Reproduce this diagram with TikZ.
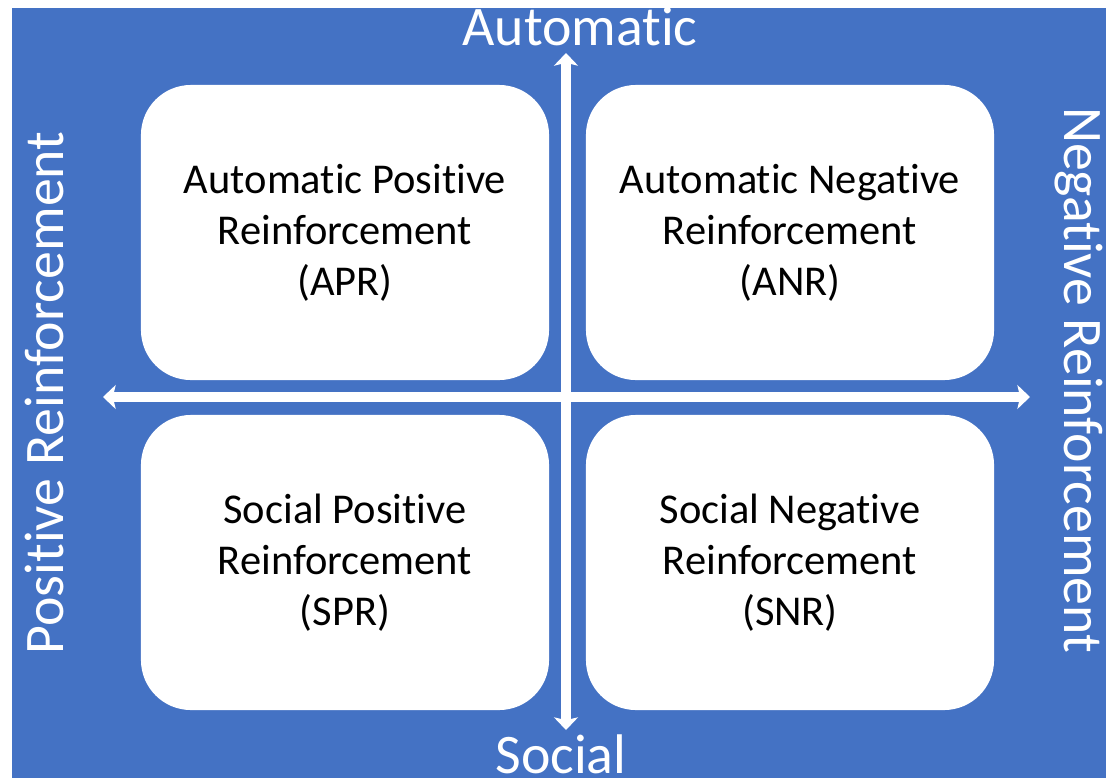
\documentclass[tikz,border=0pt]{standalone}
\usepackage{fontspec}
\setmainfont{Carlito}[Ligatures={NoCommon}]
\usetikzlibrary{arrows.meta}
\definecolor{slideblue}{RGB}{68,114,196}

\begin{document}
\begin{tikzpicture}[x=0.025cm, y=-0.025cm,
    quadbox/.style={fill=white, rounded corners=1.25cm, minimum width=10.2cm, minimum height=7.375cm,
      align=center, inner sep=0pt, font=\fontsize{30.2}{36.3}\selectfont},
    axislabel/.style={text=white, anchor=base, inner sep=0pt, font=\fontsize{39.7}{44}\selectfont},
    axisline/.style={white, line width=7.8pt,
      {Stealth[length=9pt, width=17pt, inset=2pt]}-{Stealth[length=9pt, width=17pt, inset=2pt]}}]
    \useasboundingbox (0,0) rectangle (1106,778);
    \fill[slideblue] (12,8) rectangle (1106,778);
    % four quadrants
    \node[quadbox] (apr) at (345,232.5) {Automatic Positive\\Reinforcement\\(APR)};
    \node[quadbox] (anr) at (790,232.5) {Automatic Negative\\Reinforcement\\(ANR)};
    \node[quadbox] (spr) at (345,562.5) {Social Positive\\Reinforcement\\(SPR)};
    \node[quadbox] (snr) at (790,562.5) {Social Negative\\Reinforcement\\(SNR)};
    % axes
    \coordinate (top) at (566,53);
    \coordinate (bot) at (566,730);
    \coordinate (lft) at (103,397);
    \coordinate (rgt) at (1030,397);
    \draw[axisline] (bot) -- (top);
    \draw[axisline] (lft) -- (rgt);
    \node[axislabel] (auto) at (580,45) {Automatic};
    \node[axislabel] (soc) at (561,773) {Social};
    \node[axislabel, rotate=90] (pos) at (63,393) {Positive Reinforcement};
    \node[axislabel, rotate=-90] (neg) at (1064,380) {Negative Reinforcement};
\end{tikzpicture}
\end{document}
